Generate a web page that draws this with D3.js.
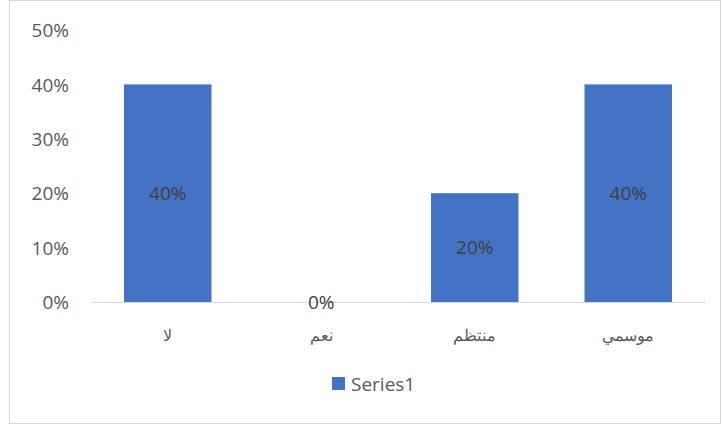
<!DOCTYPE html>
<meta charset="utf-8">
<style>
body { margin: 0; background: #fff; font-family: "Open Sans", "Liberation Sans", sans-serif; }
.axis text { font-size: 19px; fill: #595959; font-family: "Open Sans", sans-serif; }
.axis path { display: none; }
</style>
<body>
<svg id="svg" width="723" height="427"></svg>
<script src="https://cdn.jsdelivr.net/npm/d3@7/dist/d3.min.js"></script>
<script>
const categories = ["لا", "نعم", "منتظم", "موسمي"];
const values = [0.4, 0, 0.2, 0.4];
const yTicks = [0, 0.1, 0.2, 0.3, 0.4, 0.5];
const seriesName = "Series1";

const svg = d3.select("#svg");
const margin = {top: 30, right: 18, bottom: 125, left: 91};
const width = 723 - margin.left - margin.right,
      height = 302 - margin.top;

// chart frame
svg.append("rect")
  .attr("x", 9.5).attr("y", 0.5)
  .attr("width", 711).attr("height", 423)
  .attr("fill", "none").attr("stroke", "#d9d9d9");

const g = svg.append("g").attr("transform", "translate(" + margin.left + "," + margin.top + ")");

const x = d3.scaleBand().domain(categories).range([0, width]).paddingInner(0.43).paddingOuter(0.215);
const y = d3.scaleLinear().domain([0, 0.5]).range([height, 0]);

g.append("g")
  .attr("class", "axis")
  .call(d3.axisLeft(y).tickValues(yTicks).tickFormat(d3.format(".0%")).tickSize(0).tickPadding(22))
  .selectAll("text").attr("dy", "0.35em");

g.selectAll(".bar")
  .data(values)
  .enter().append("rect")
  .attr("x", (d, i) => x(categories[i]))
  .attr("y", d => y(d))
  .attr("width", x.bandwidth())
  .attr("height", d => height - y(d))
  .attr("fill", "#4472c4");

// baseline
g.append("line")
  .attr("x1", 0).attr("x2", width)
  .attr("y1", height + 0.5).attr("y2", height + 0.5)
  .attr("stroke", "#d9d9d9");

// data labels
g.selectAll(".lbl")
  .data(values)
  .enter().append("text")
  .attr("x", (d, i) => x(categories[i]) + x.bandwidth() / 2)
  .attr("y", d => (y(d) + height) / 2)
  .attr("dy", "0.35em")
  .attr("text-anchor", "middle")
  .attr("font-size", 19)
  .attr("fill", "#404040")
  .text(d => d3.format(".0%")(d));

// category labels
g.selectAll(".cat")
  .data(categories)
  .enter().append("text")
  .attr("x", d => x(d) + x.bandwidth() / 2)
  .attr("y", height + 33)
  .attr("dy", "0.35em")
  .attr("text-anchor", "middle")
  .attr("font-family", "'DejaVu Serif', 'Liberation Serif', serif")
  .attr("font-size", 16)
  .attr("fill", "#595959")
  .text(d => d);

// legend
const legend = svg.append("g").attr("transform", "translate(332,377)");
legend.append("rect").attr("width", 13).attr("height", 13).attr("fill", "#4472c4");
legend.append("text")
  .attr("x", 19).attr("y", 7).attr("dy", "0.35em")
  .attr("font-size", 19).attr("fill", "#595959")
  .text(seriesName);
</script>
</body>
